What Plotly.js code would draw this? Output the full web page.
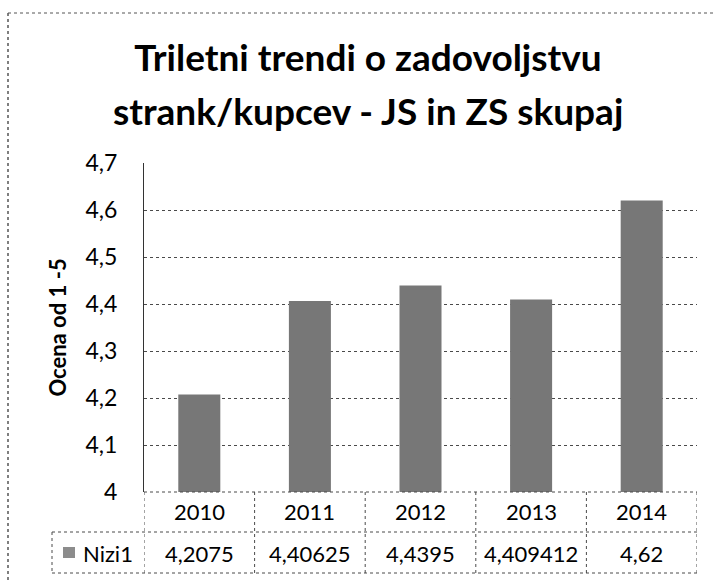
<!DOCTYPE html>
<html>
<head>
<meta charset="utf-8">
<script src="https://cdn.plot.ly/plotly-3.0.1.min.js"></script>
<style>
  html, body { margin: 0; padding: 0; background: #fff; }
  #chart { width: 715px; height: 582px; }
</style>
</head>
<body>
<div id="chart"></div>
<script>
// ---- data ----
const years = ["2010", "2011", "2012", "2013", "2014"];
const values = [4.2075, 4.40625, 4.4395, 4.409412, 4.62];
const seriesName = "Nizi1";
const titleLine1 = "Triletni trendi o zadovoljstvu";
const titleLine2 = "strank/kupcev - JS in ZS skupaj";
const yTitle = "Ocena od 1 -5";

// ---- geometry helpers (plot area: x 144..697, y 163..492 px) ----
const L = 144, R = 697, T = 163, B = 492, W = 715, H = 582;
const pw = R - L, ph = B - T;
const px2paperX = p => (p - L) / pw;
const py2paperY = p => (B - p) / ph;

const FONT = "Lato, 'Open Sans', sans-serif";
const gridCol = "#4a4a4a";

const trace = {
  type: "bar",
  x: years,
  y: values,
  name: seriesName,
  width: 0.38,
  marker: {
    color: "#8a8a8a",
    line: { width: 0 },
    pattern: { shape: ".", fgcolor: "#3c3c3c", bgcolor: "#a6a6a6", size: 2, solidity: 0.5 }
  },
  hoverinfo: "x+y"
};

const annotations = [];
// title line 2
annotations.push({
  text: titleLine2, xref: "paper", yref: "paper",
  x: px2paperX(368), y: py2paperY(110), xanchor: "center", yanchor: "middle",
  showarrow: false, font: { family: FONT, size: 37, color: "#000", weight: 700 }
});
// table row 1: years (category index positions)
years.forEach((yr, i) => annotations.push({
  text: yr, xref: "x", yref: "paper", x: i, y: py2paperY(512),
  xanchor: "center", yanchor: "middle", showarrow: false,
  font: { family: FONT, size: 22, color: "#000" }
}));
// table row 2: values
years.forEach((yr, i) => annotations.push({
  text: String(values[i]).replace(".", ","), xref: "x", yref: "paper", x: i, y: py2paperY(553),
  xanchor: "center", yanchor: "middle", showarrow: false,
  font: { family: FONT, size: 22, color: "#000" }
}));
// legend label
annotations.push({
  text: seriesName, xref: "paper", yref: "paper", x: px2paperX(81), y: py2paperY(553),
  xanchor: "left", yanchor: "middle", showarrow: false,
  font: { family: FONT, size: 22, color: "#000" }
});

const dotLine = { color: gridCol, width: 1, dash: "dot" };
const shapes = [];
// vertical table lines at category boundaries
for (let k = 0; k <= years.length; k++) {
  shapes.push({ type: "line", xref: "x", yref: "paper", x0: k - 0.5, x1: k - 0.5,
    y0: 0, y1: py2paperY(573), line: dotLine });
}
// horizontal lines
shapes.push({ type: "line", xref: "paper", yref: "paper", x0: 0, x1: 1, y0: 0, y1: 0, line: dotLine });
shapes.push({ type: "line", xref: "paper", yref: "paper", x0: px2paperX(52), x1: 1,
  y0: py2paperY(532), y1: py2paperY(532), line: dotLine });
shapes.push({ type: "line", xref: "paper", yref: "paper", x0: px2paperX(52), x1: 1,
  y0: py2paperY(573), y1: py2paperY(573), line: dotLine });
// legend cell left line
shapes.push({ type: "line", xref: "paper", yref: "paper", x0: px2paperX(52), x1: px2paperX(52),
  y0: py2paperY(532), y1: py2paperY(573), line: dotLine });
// legend key
shapes.push({ type: "rect", xref: "paper", yref: "paper",
  x0: px2paperX(63), x1: px2paperX(75), y0: py2paperY(547), y1: py2paperY(558),
  fillcolor: "#8c8c8c", line: { width: 0 } });
// outer frame (top and left)
shapes.push({ type: "line", xref: "paper", yref: "paper", x0: px2paperX(8), x1: px2paperX(715),
  y0: py2paperY(13), y1: py2paperY(13), line: { color: "#555", width: 1, dash: "dot" } });
shapes.push({ type: "line", xref: "paper", yref: "paper", x0: px2paperX(8), x1: px2paperX(8),
  y0: py2paperY(13), y1: py2paperY(582), line: { color: "#555", width: 1.5, dash: "dot" } });

const layout = {
  width: W, height: H,
  margin: { l: L, r: W - R, t: T, b: H - B, pad: 0 },
  paper_bgcolor: "#fff", plot_bgcolor: "#fff",
  separators: ", ",
  showlegend: false,
  title: {
    text: titleLine1, xref: "container", yref: "container",
    x: 368 / W, xanchor: "center", y: 1 - 58 / H, yanchor: "middle",
    font: { family: FONT, size: 37, color: "#000", weight: 700 }
  },
  xaxis: {
    type: "category", showticklabels: false, showgrid: false, zeroline: false,
    showline: false, ticks: "", range: [-0.5, 4.5], fixedrange: true
  },
  yaxis: {
    range: [4, 4.7], dtick: 0.1, tick0: 4, showgrid: true,
    gridcolor: gridCol, griddash: "dot", gridwidth: 1,
    zeroline: false, showline: true, linecolor: "#333", linewidth: 1,
    ticks: "", ticklabelstandoff: 21,
    tickfont: { family: FONT, size: 23, color: "#000" },
    title: { text: yTitle, standoff: 12, font: { family: FONT, size: 22, color: "#000", weight: 700 } },
    fixedrange: true
  },
  annotations: annotations,
  shapes: shapes,
  bargap: 0.62
};

Plotly.newPlot("chart", [trace], layout, { displayModeBar: false, staticPlot: true });
</script>
</body>
</html>
